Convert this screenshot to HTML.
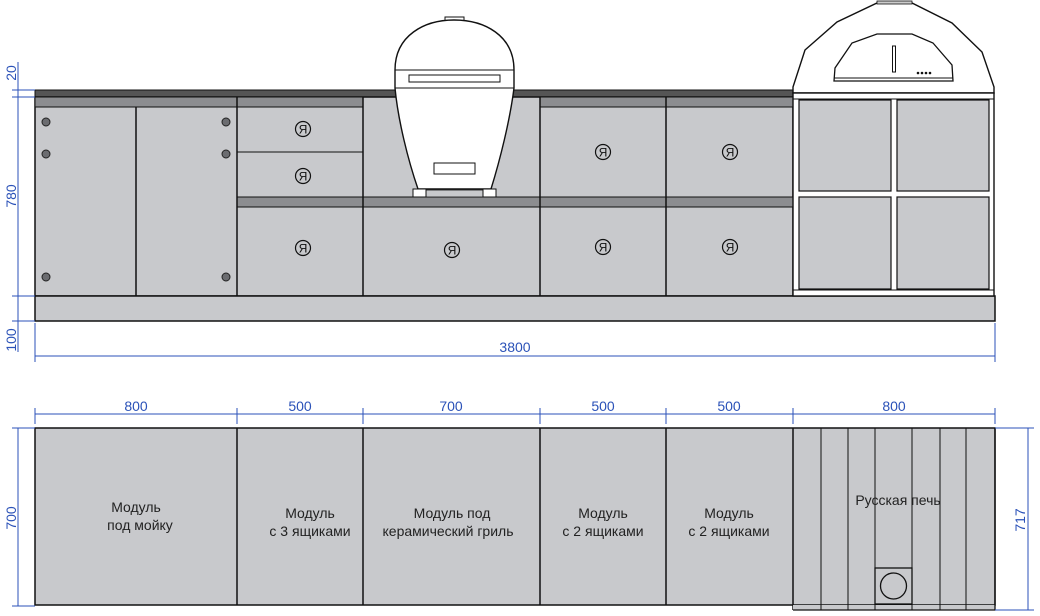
<!DOCTYPE html>
<html><head><meta charset="utf-8"><style>
html,body{margin:0;padding:0;background:#fff;width:1040px;height:616px;overflow:hidden}
svg{display:block}
.d{fill:#2b52b8;font-family:"Liberation Sans",sans-serif;font-size:14px}
.t{fill:#222;font-family:"Liberation Sans",sans-serif;font-size:14px;text-anchor:middle}
.l{stroke:#2b52b8;stroke-width:1}
</style></head><body>
<svg width="1040" height="616" viewBox="0 0 1040 616" xmlns="http://www.w3.org/2000/svg">
<defs>
<g id="ya"><circle r="7.5" fill="none" stroke="#111" stroke-width="1.2"/><text x="0" y="4.5" text-anchor="middle" font-family="Liberation Sans,sans-serif" font-size="12" fill="#111" transform="scale(-1,1)">R</text></g>
</defs>
<rect x="35" y="90" width="758" height="7" fill="#555" stroke="#111" stroke-width="1"/>
<rect x="35" y="97" width="758" height="199" fill="#c8c9cc" stroke="#111" stroke-width="1.5"/>
<rect x="35" y="97" width="328" height="10" fill="#8c8d90" stroke="#111" stroke-width="1"/>
<rect x="540" y="97" width="253" height="10" fill="#8c8d90" stroke="#111" stroke-width="1"/>
<rect x="237" y="197" width="556" height="10" fill="#8c8d90" stroke="#111" stroke-width="1"/>
<g stroke="#111" stroke-width="1.5">
<line x1="136" y1="107" x2="136" y2="296"/>
<line x1="237" y1="97" x2="237" y2="296"/>
<line x1="363" y1="97" x2="363" y2="296"/>
<line x1="540" y1="97" x2="540" y2="296"/>
<line x1="666" y1="97" x2="666" y2="296"/>
</g>
<line x1="237" y1="152" x2="363" y2="152" stroke="#111" stroke-width="1"/>
<rect x="35" y="296" width="960" height="25" fill="#c8c9cc" stroke="#111" stroke-width="1.5"/>
<g fill="#6b6c70" stroke="#222" stroke-width="1">
<circle cx="46" cy="122" r="4"/><circle cx="46" cy="154" r="4"/><circle cx="46" cy="277" r="4"/>
<circle cx="226" cy="122" r="4"/><circle cx="226" cy="154" r="4"/><circle cx="226" cy="277" r="4"/>
</g>
<use href="#ya" x="303" y="129"/><use href="#ya" x="303" y="176"/><use href="#ya" x="303" y="248"/>
<use href="#ya" x="452" y="250"/>
<use href="#ya" x="603" y="152"/><use href="#ya" x="730" y="152"/>
<use href="#ya" x="603" y="247"/><use href="#ya" x="730" y="247"/>
<rect x="445" y="17" width="19" height="4" fill="#fff" stroke="#111"/>
<path d="M395,70 C395,35 425,20 454,20 C484,20 514,35 514,70 L514,88 C510,120 500,160 491,189 L418,189 C408,160 398,120 395,88 Z" fill="#fff" stroke="#111" stroke-width="1.4"/>
<line x1="395" y1="70" x2="514" y2="70" stroke="#111"/>
<line x1="395" y1="88" x2="514" y2="88" stroke="#111"/>
<rect x="409" y="75" width="91" height="7" fill="#fff" stroke="#111"/>
<rect x="434" y="163" width="41" height="11" fill="#fff" stroke="#111"/>
<rect x="426" y="190" width="57" height="7" fill="#c8c9cc" stroke="#111" stroke-width="0.8"/>
<rect x="413" y="189" width="13" height="8" fill="#fff" stroke="#111"/>
<rect x="483" y="189" width="13" height="8" fill="#fff" stroke="#111"/>
<path d="M793,93 L793,87 L805,50 L837,22 L877,3 L912,3 L952,23 L982,52 L994,87 L994,93 Z" fill="#fff" stroke="#111" stroke-width="1.4"/>
<rect x="877" y="1" width="35" height="3" fill="#ccc" stroke="#111" stroke-width="0.8"/>
<path d="M834,81 L835,68 L852,43 L877,34 L912,34 L933,43 L952,65 L953,81 Z" fill="#fff" stroke="#111" stroke-width="1.3"/>
<line x1="834" y1="78" x2="953" y2="78" stroke="#111"/>
<rect x="892.5" y="46" width="3" height="26" fill="#fff" stroke="#111"/>
<g fill="#111"><circle cx="918" cy="73" r="1.3"/><circle cx="922" cy="73" r="1.3"/><circle cx="926" cy="73" r="1.3"/><circle cx="930" cy="73" r="1.3"/></g>
<rect x="793" y="93" width="201" height="203" fill="#fff" stroke="#111" stroke-width="1.4"/>
<line x1="793" y1="99" x2="994" y2="99" stroke="#111"/>
<line x1="793" y1="290" x2="994" y2="290" stroke="#111"/>
<g fill="#c8c9cc" stroke="#111" stroke-width="1.2">
<rect x="799" y="100" width="92" height="91"/><rect x="897" y="100" width="92" height="91"/>
<rect x="799" y="197" width="92" height="92"/><rect x="897" y="197" width="92" height="92"/>
</g>
<g class="l">
<line x1="18" y1="62" x2="18" y2="352"/>
<line x1="12" y1="90" x2="35" y2="90"/><line x1="12" y1="97" x2="35" y2="97"/>
<line x1="12" y1="296" x2="35" y2="296"/><line x1="12" y1="321" x2="35" y2="321"/>
<line x1="35" y1="323" x2="35" y2="362"/><line x1="995" y1="323" x2="995" y2="362"/>
<line x1="35" y1="356" x2="995" y2="356"/>
</g>
<text class="d" transform="translate(16,73) rotate(-90)" text-anchor="middle">20</text>
<text class="d" transform="translate(16,196) rotate(-90)" text-anchor="middle">780</text>
<text class="d" transform="translate(16,340) rotate(-90)" text-anchor="middle">100</text>
<text class="d" x="515" y="352" text-anchor="middle">3800</text>
<rect x="35" y="428" width="960" height="177" fill="#c8c9cc" stroke="#111" stroke-width="1.5"/>
<g stroke="#111" stroke-width="1.5">
<line x1="237" y1="428" x2="237" y2="605"/><line x1="363" y1="428" x2="363" y2="605"/>
<line x1="540" y1="428" x2="540" y2="605"/><line x1="666" y1="428" x2="666" y2="605"/>
<line x1="793" y1="428" x2="793" y2="610"/>
</g>
<rect x="793" y="605" width="202" height="5" fill="#c8c9cc"/>
<path d="M793,610 L995,610 L995,428" fill="none" stroke="#111" stroke-width="1.3"/>
<g stroke="#111" stroke-width="1">
<line x1="821" y1="428" x2="821" y2="610"/><line x1="848" y1="428" x2="848" y2="610"/>
<line x1="875" y1="428" x2="875" y2="610"/><line x1="912" y1="428" x2="912" y2="610"/>
<line x1="940" y1="428" x2="940" y2="610"/><line x1="966" y1="428" x2="966" y2="610"/>
</g>
<rect x="875" y="568" width="37" height="36" fill="#c8c9cc" stroke="#111" stroke-width="1.3"/>
<circle cx="893.5" cy="586" r="13" fill="none" stroke="#111" stroke-width="1.3"/>
<text class="t" x="136" y="512">Модуль</text><text class="t" x="140" y="530">под мойку</text>
<text class="t" x="310" y="518">Модуль</text><text class="t" x="310" y="536">с 3 ящиками</text>
<text class="t" x="452" y="518">Модуль под</text><text class="t" x="448" y="536">керамический гриль</text>
<text class="t" x="603" y="518">Модуль</text><text class="t" x="603" y="536">с 2 ящиками</text>
<text class="t" x="729" y="518">Модуль</text><text class="t" x="729" y="536">с 2 ящиками</text>
<text class="t" x="898" y="505">Русская печь</text>
<g class="l">
<line x1="35" y1="414" x2="995" y2="414"/>
<line x1="35" y1="408" x2="35" y2="424"/><line x1="237" y1="408" x2="237" y2="424"/>
<line x1="363" y1="408" x2="363" y2="424"/><line x1="540" y1="408" x2="540" y2="424"/>
<line x1="666" y1="408" x2="666" y2="424"/><line x1="793" y1="408" x2="793" y2="424"/>
<line x1="995" y1="408" x2="995" y2="424"/>
<line x1="18" y1="428" x2="18" y2="606"/>
<line x1="12" y1="428" x2="35" y2="428"/><line x1="12" y1="606" x2="35" y2="606"/>
<line x1="1028" y1="428" x2="1028" y2="610"/>
<line x1="995" y1="428" x2="1034" y2="428"/><line x1="995" y1="610" x2="1034" y2="610"/>
</g>
<text class="d" x="136" y="411" text-anchor="middle">800</text>
<text class="d" x="300" y="411" text-anchor="middle">500</text>
<text class="d" x="451" y="411" text-anchor="middle">700</text>
<text class="d" x="603" y="411" text-anchor="middle">500</text>
<text class="d" x="729" y="411" text-anchor="middle">500</text>
<text class="d" x="894" y="411" text-anchor="middle">800</text>
<text class="d" transform="translate(16,518) rotate(-90)" text-anchor="middle">700</text>
<text class="d" transform="translate(1025,520) rotate(-90)" text-anchor="middle">717</text>
</svg>
</body></html>
